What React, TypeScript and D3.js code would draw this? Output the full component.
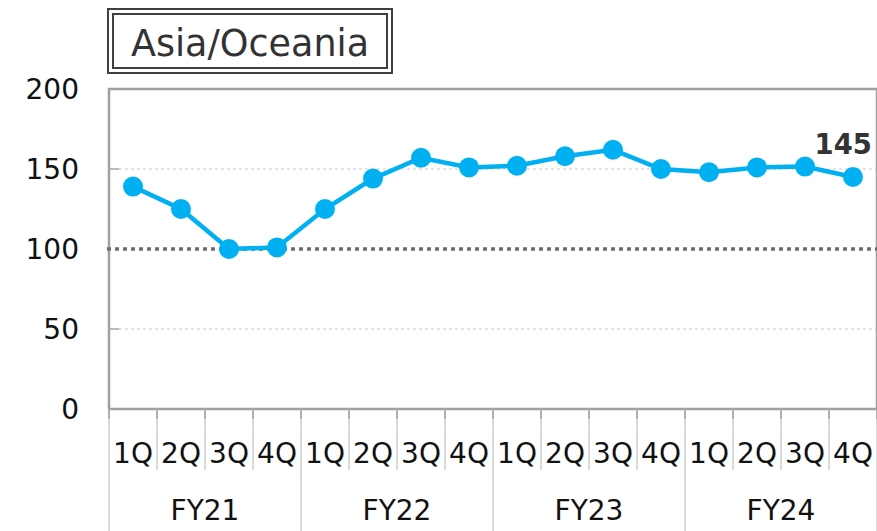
import { useEffect, useRef } from 'react';
import * as d3 from 'd3';

const quarters = ['1Q', '2Q', '3Q', '4Q', '1Q', '2Q', '3Q', '4Q', '1Q', '2Q', '3Q', '4Q', '1Q', '2Q', '3Q', '4Q'];
const years = ['FY21', 'FY22', 'FY23', 'FY24'];
const values = [139, 125, 100, 101, 125, 144, 157, 151, 152, 158, 162, 150, 148, 151, 151.5, 145];
const yTicks = [0, 50, 100, 150, 200];
const title = 'Asia/Oceania';
const baseline = 100;

export default function App() {
  const svgRef = useRef<SVGSVGElement | null>(null);

  useEffect(() => {
    if (!svgRef.current) return;
    const root = d3.select(svgRef.current);
    root.selectAll('*').remove();

    const width = 877;
    const height = 531;
    const margin = { top: 89, right: 0, bottom: 122, left: 109 };
    const innerW = width - margin.left - margin.right;
    const innerH = height - margin.top - margin.bottom;
    const font = "'DejaVu Sans', Verdana, sans-serif";

    const idx = quarters.map((_, i) => i);
    const x = d3.scaleBand<number>().domain(idx).range([0, innerW]);
    const y = d3.scaleLinear().domain([0, 200]).range([innerH, 0]);

    // Title box (double border)
    const tb = root.append('g');
    tb.append('rect').attr('x', 108).attr('y', 9).attr('width', 284).attr('height', 64)
      .attr('fill', 'white').attr('stroke', '#404040').attr('stroke-width', 2);
    tb.append('rect').attr('x', 113).attr('y', 14).attr('width', 274).attr('height', 54)
      .attr('fill', 'none').attr('stroke', '#404040').attr('stroke-width', 2);
    tb.append('text').attr('x', 250).attr('y', 56).attr('text-anchor', 'middle')
      .attr('font-family', font).attr('font-size', 36.5).attr('fill', '#333')
      .text(title);

    const svg = root.append('g').attr('transform', `translate(${margin.left},${margin.top})`);

    // Gridlines
    yTicks.filter(t => t !== 0 && t !== 200 && t !== baseline).forEach(t => {
      svg.append('line').attr('x1', 10).attr('x2', innerW).attr('y1', y(t)).attr('y2', y(t))
        .attr('stroke', '#c8c8c8').attr('stroke-width', 1).attr('stroke-dasharray', '3,3');
      svg.append('line').attr('x1', 0).attr('x2', 10).attr('y1', y(t)).attr('y2', y(t))
        .attr('stroke', '#a6a6a6').attr('stroke-width', 1.5);
    });

    // Frame
    svg.append('path')
      .attr('d', `M0,${innerH}V0H${innerW}V${innerH}`)
      .attr('fill', 'none').attr('stroke', '#a0a0a0').attr('stroke-width', 2.5);
    svg.append('line').attr('x1', 0).attr('x2', innerW).attr('y1', innerH).attr('y2', innerH)
      .attr('stroke', '#a0a0a0').attr('stroke-width', 2.5);

    // Baseline 100
    svg.append('line').attr('x1', -2).attr('x2', innerW).attr('y1', y(baseline)).attr('y2', y(baseline))
      .attr('stroke', '#6e6e6e').attr('stroke-width', 3.5).attr('stroke-dasharray', '4,4');

    // Y labels
    yTicks.forEach(t => {
      svg.append('text').attr('x', -30).attr('y', y(t)).attr('dy', '0.36em')
        .attr('text-anchor', 'end').attr('font-family', font).attr('font-size', 28)
        .attr('fill', '#111').text(t);
    });

    // X separators
    d3.range(quarters.length + 1).forEach(i => {
      const xx = i * x.bandwidth();
      const isYear = i % 4 === 0;
      svg.append('line').attr('x1', xx).attr('x2', xx).attr('y1', innerH).attr('y2', isYear ? height - margin.top : innerH + 61)
        .attr('stroke', '#cfcfcf').attr('stroke-width', 1.5);
      svg.append('line').attr('x1', xx).attr('x2', xx).attr('y1', innerH).attr('y2', innerH + 10)
        .attr('stroke', '#a0a0a0').attr('stroke-width', 1.5);
    });

    // Quarter labels
    quarters.forEach((q, i) => {
      svg.append('text').attr('x', (x(i) ?? 0) + x.bandwidth() / 2).attr('y', innerH + 54)
        .attr('text-anchor', 'middle').attr('font-family', font).attr('font-size', 28)
        .attr('fill', '#111').text(q);
    });

    // Year labels
    years.forEach((yr, j) => {
      svg.append('text').attr('x', (j * 4 + 2) * x.bandwidth()).attr('y', innerH + 111)
        .attr('text-anchor', 'middle').attr('font-family', font).attr('font-size', 28)
        .attr('fill', '#111').text(yr);
    });

    // Line
    const line = d3.line<number>()
      .x((_, i) => (x(i) ?? 0) + x.bandwidth() / 2)
      .y(d => y(d));
    svg.append('path').datum(values)
      .attr('fill', 'none').attr('stroke', '#00b0f0').attr('stroke-width', 4.5)
      .attr('d', line);

    svg.selectAll('.dot').data(values).enter().append('circle')
      .attr('class', 'dot')
      .attr('cx', (_, i) => (x(i) ?? 0) + x.bandwidth() / 2)
      .attr('cy', d => y(d))
      .attr('r', 10)
      .attr('fill', '#00b0f0');

    // Last value label
    const last = values.length - 1;
    svg.append('text')
      .attr('x', (x(last) ?? 0) + x.bandwidth() / 2 + 19)
      .attr('y', y(values[last]) - 23)
      .attr('text-anchor', 'end').attr('font-family', font).attr('font-size', 27.5)
      .attr('font-weight', 'bold').attr('fill', '#333')
      .text(Math.round(values[last]));
  }, []);

  return (
    <svg ref={svgRef} width={877} height={531}
      style={{ position: 'absolute', left: 0, top: 0, background: 'white' }} />
  );
}
